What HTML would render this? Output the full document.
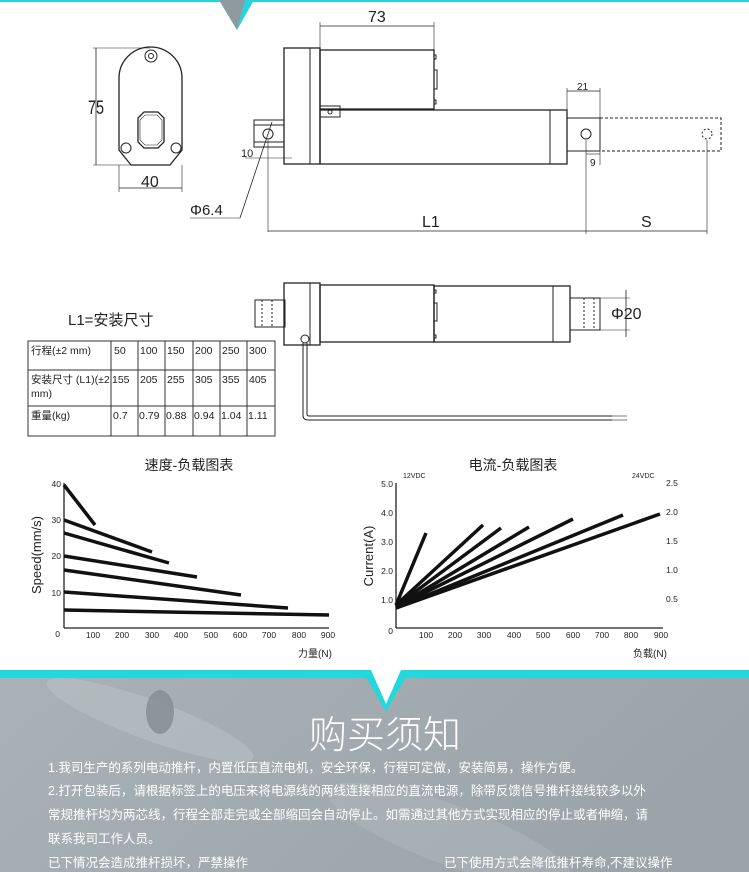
<!DOCTYPE html>
<html><head><meta charset="utf-8"><style>
html,body{margin:0;padding:0;background:#fff}
body{width:749px;height:872px;position:relative;overflow:hidden;font-family:"Liberation Sans","Noto Sans CJK SC",sans-serif}
svg{position:absolute;left:0;top:0}
</style></head><body>
<svg width="749" height="872" viewBox="0 0 749 872" font-family="Liberation Sans, Noto Sans CJK SC, sans-serif">
<defs>
<linearGradient id="bg" x1="0" y1="0" x2="1" y2="0.3">
<stop offset="0" stop-color="#a9b2b7"/><stop offset="0.5" stop-color="#a2abb0"/><stop offset="1" stop-color="#9aa4a9"/>
</linearGradient>
</defs>
<rect x="0" y="0" width="749" height="2" fill="#28d4da"/>
<polygon points="219,0 254,0 237,30" fill="#28d4da"/>
<polygon points="219,0 245,0 237,30" fill="#8f9aa0"/>

<g stroke="#222" fill="none" stroke-width="1">
<path d="M119,150 L119,78 A31.5,31 0 0 1 182,78 L182,150 L170,165 L131,165 Z" stroke-width="1.3"/>
<circle cx="151" cy="56" r="6"/><circle cx="151" cy="56" r="2.5"/>
<circle cx="126" cy="148" r="5"/><circle cx="176" cy="148" r="5"/>
<path d="M138,118 L144,112 L158,112 L164,118 L164,142 L158,148 L144,148 L138,142 Z" stroke-width="1.3"/>
<path d="M140,120 L145,115 L157,115 L162,120 L162,140 L157,145 L145,145 L140,140 Z" stroke-width="0.6"/>
<line x1="93" y1="48" x2="150" y2="48" stroke-width="0.6"/>
<line x1="93" y1="165" x2="150" y2="165" stroke-width="0.6"/>
<line x1="96" y1="48" x2="96" y2="165" stroke-width="0.8"/>
<line x1="119" y1="165" x2="119" y2="192" stroke-width="0.6"/>
<line x1="182" y1="165" x2="182" y2="192" stroke-width="0.6"/>
<line x1="119" y1="188" x2="182" y2="188" stroke-width="0.8"/>

<rect x="284" y="48" width="36" height="116" stroke-width="1.3"/>
<line x1="310" y1="48" x2="310" y2="164"/>
<rect x="320" y="50" width="114" height="59" stroke-width="1.3"/>
<rect x="434" y="55" width="2" height="4"/><rect x="434" y="70" width="3" height="19"/><rect x="434" y="100" width="2" height="4"/>
<rect x="320" y="110" width="247" height="54" stroke-width="1.3"/>
<line x1="550" y1="110" x2="550" y2="164"/>
<rect x="320" y="106" width="20" height="11"/><circle cx="330" cy="112" r="2"/>
<rect x="254" y="120" width="30" height="27"/>
<line x1="254" y1="125" x2="284" y2="125"/><line x1="254" y1="142" x2="284" y2="142"/>
<circle cx="268" cy="134" r="5"/>
<rect x="567" y="118" width="33" height="33"/>
<circle cx="586" cy="134" r="5"/>
<path d="M600,118 H721 V151 H600" stroke-dasharray="3,2"/>
<circle cx="707" cy="134" r="5" stroke-dasharray="2,2"/>
<line x1="320" y1="22" x2="320" y2="48" stroke-width="0.6"/>
<line x1="434" y1="22" x2="434" y2="50" stroke-width="0.6"/>
<line x1="320" y1="26" x2="434" y2="26" stroke-width="0.8"/>
<line x1="567" y1="88" x2="567" y2="110" stroke-width="0.6"/>
<line x1="600" y1="88" x2="600" y2="165" stroke-width="0.6"/>
<line x1="567" y1="91" x2="600" y2="91" stroke-width="0.8"/>
<line x1="586" y1="154" x2="600" y2="154" stroke-width="0.6"/>
<line x1="268" y1="140" x2="268" y2="232" stroke-width="0.6"/>
<line x1="586" y1="140" x2="586" y2="234" stroke-width="0.6"/>
<line x1="707" y1="140" x2="707" y2="234" stroke-width="0.6"/>
<line x1="268" y1="231" x2="707" y2="231" stroke-width="0.8"/>
<line x1="245" y1="158" x2="292" y2="158" stroke-width="0.6"/>
<line x1="190" y1="218" x2="240" y2="218" stroke-width="0.6"/>
<line x1="240" y1="218" x2="272" y2="122" stroke-width="0.8"/>

<rect x="284" y="283" width="36" height="62" stroke-width="1.3"/>
<line x1="310" y1="283" x2="310" y2="345"/>
<rect x="320" y="285" width="114" height="57" stroke-width="1.3"/>
<rect x="434" y="286" width="136" height="56" stroke-width="1.3"/>
<line x1="553" y1="286" x2="553" y2="342"/>
<rect x="434" y="290" width="2" height="3"/><rect x="434" y="303" width="3" height="18"/><rect x="434" y="335" width="2" height="3"/>
<rect x="570" y="298" width="30" height="32"/>
<line x1="584" y1="298" x2="584" y2="330" stroke-dasharray="2,2"/><line x1="594" y1="298" x2="594" y2="330" stroke-dasharray="2,2"/>
<rect x="255" y="300" width="30" height="27"/>
<line x1="262" y1="300" x2="262" y2="327" stroke-dasharray="2,2"/><line x1="272" y1="300" x2="272" y2="327" stroke-dasharray="2,2"/>
<line x1="600" y1="298" x2="630" y2="298" stroke-width="0.6"/><line x1="600" y1="330" x2="630" y2="330" stroke-width="0.6"/>
<line x1="626" y1="290" x2="626" y2="337" stroke-width="0.8"/>
<circle cx="305" cy="339" r="4"/>
<path d="M303,343 V415 Q303,420 308,420 H612" stroke-width="1"/>
<path d="M307,343 V414 Q307,416 309,416 H612" stroke-width="1"/>
<line x1="612" y1="416" x2="627" y2="416" stroke-width="0.6"/><line x1="612" y1="420" x2="627" y2="420" stroke-width="0.6"/>

<g stroke="#333" stroke-width="1">
<rect x="28" y="341" width="247" height="95"/>
<line x1="28" y1="370" x2="275" y2="370"/><line x1="28" y1="406" x2="275" y2="406"/>
<line x1="111" y1="341" x2="111" y2="436"/><line x1="138" y1="341" x2="138" y2="436"/>
<line x1="165" y1="341" x2="165" y2="436"/><line x1="193" y1="341" x2="193" y2="436"/>
<line x1="220" y1="341" x2="220" y2="436"/><line x1="247" y1="341" x2="247" y2="436"/>
</g>

<line x1="64" y1="483" x2="64" y2="628" stroke-width="1.3"/>
<line x1="64" y1="628" x2="329" y2="628" stroke-width="1.3"/>
<g stroke="#111" stroke-width="3.5">
<line x1="64" y1="485" x2="95" y2="525"/>
<line x1="64" y1="520" x2="152" y2="552"/>
<line x1="64" y1="533" x2="169" y2="563"/>
<line x1="64" y1="556" x2="197" y2="577"/>
<line x1="64" y1="570" x2="241" y2="595"/>
<line x1="64" y1="592" x2="288" y2="608"/>
<line x1="64" y1="610" x2="329" y2="615"/>
</g>
<line x1="396" y1="483" x2="396" y2="628" stroke-width="1.3"/>
<line x1="396" y1="628" x2="663" y2="628" stroke-width="1.3"/>
<g stroke="#111" stroke-width="3.5">
<line x1="396" y1="605" x2="426" y2="533"/>
<line x1="396" y1="605" x2="483" y2="525"/>
<line x1="396" y1="606" x2="501" y2="528"/>
<line x1="396" y1="607" x2="529" y2="527"/>
<line x1="396" y1="607" x2="573" y2="519"/>
<line x1="396" y1="608" x2="623" y2="515"/>
<line x1="396" y1="608" x2="660" y2="514"/>
</g>
</g>

<g fill="#222" font-size="16">
<text x="88" y="114" font-size="19" textLength="16" lengthAdjust="spacingAndGlyphs">75</text>
<text x="141" y="187">40</text>
<text x="368" y="22">73</text>
<text x="577" y="90" font-size="10">21</text>
<text x="590" y="166" font-size="10">9</text>
<text x="241" y="157" font-size="11">10</text>
<text x="190" y="215" font-size="15">Φ6.4</text>
<text x="422" y="227">L1</text>
<text x="641" y="227">S</text>
<text x="611" y="319" font-size="16">Φ20</text>
<text x="68" y="325" font-size="15">L1=安装尺寸</text>
</g>
<g fill="#222" font-size="10.5">
<text x="31" y="354">行程(±2 mm)</text>
<text x="114" y="354">50</text><text x="140" y="354">100</text><text x="167" y="354">150</text><text x="195" y="354">200</text><text x="222" y="354">250</text><text x="249" y="354">300</text>
<text x="31" y="383">安装尺寸 (L1)(±2</text><text x="31" y="397">mm)</text>
<text x="112" y="383">155</text><text x="140" y="383">205</text><text x="167" y="383">255</text><text x="195" y="383">305</text><text x="222" y="383">355</text><text x="249" y="383">405</text>
<text x="31" y="419">重量(kg)</text>
<text x="113" y="419">0.7</text><text x="139" y="419">0.79</text><text x="166" y="419">0.88</text><text x="194" y="419">0.94</text><text x="221" y="419">1.04</text><text x="248" y="419">1.11</text>
</g>
<g fill="#222">
<text x="189" y="470" font-size="14" text-anchor="middle">速度-负载图表</text>
<text x="513" y="470" font-size="14" text-anchor="middle">电流-负载图表</text>
<g font-size="8.5" text-anchor="end">
<text x="61" y="487">40</text><text x="61" y="523">30</text><text x="61" y="559">20</text><text x="61" y="596">10</text><text x="60" y="637">0</text>
<text x="393" y="487">5.0</text><text x="393" y="516">4.0</text><text x="393" y="545">3.0</text><text x="393" y="574">2.0</text><text x="393" y="603">1.0</text><text x="393" y="634">0</text>
</g>
<g font-size="8.5">
<text x="666" y="486">2.5</text><text x="666" y="515">2.0</text><text x="666" y="544">1.5</text><text x="666" y="573">1.0</text><text x="666" y="602">0.5</text>
<text x="403" y="478" font-size="7">12VDC</text><text x="632" y="478" font-size="7">24VDC</text>
</g>
<g font-size="8.5" text-anchor="middle">
<text x="93" y="638">100</text><text x="122" y="638">200</text><text x="152" y="638">300</text><text x="181" y="638">400</text><text x="211" y="638">500</text><text x="240" y="638">600</text><text x="269" y="638">700</text><text x="299" y="638">800</text><text x="328" y="638">900</text>
<text x="426" y="638">100</text><text x="455" y="638">200</text><text x="484" y="638">300</text><text x="514" y="638">400</text><text x="543" y="638">500</text><text x="573" y="638">600</text><text x="602" y="638">700</text><text x="631" y="638">800</text><text x="661" y="638">900</text>
</g>
<text x="315" y="657" font-size="10" text-anchor="middle">力量(N)</text>
<text x="650" y="657" font-size="10" text-anchor="middle">负载(N)</text>
<text x="41" y="555" font-size="13" text-anchor="middle" transform="rotate(-90 41 555)">Speed(mm/s)</text>
<text x="373" y="556" font-size="13" text-anchor="middle" transform="rotate(-90 373 556)">Current(A)</text>
</g>

<rect x="0" y="670" width="749" height="202" fill="url(#bg)"/>
<ellipse cx="150" cy="720" rx="110" ry="20" fill="#b7bfc3" opacity="0.6" transform="rotate(20 150 720)"/>
<ellipse cx="160" cy="712" rx="14" ry="22" fill="#7d878c" opacity="0.7"/>
<ellipse cx="450" cy="835" rx="130" ry="30" fill="#b0b8bc" opacity="0.5" transform="rotate(20 450 835)"/>
<rect x="0" y="670" width="749" height="8" fill="#22d8dc"/>
<polygon points="366,677 406,677 386,712" fill="#22d8dc"/>
<polygon points="371,670 401,670 386,704" fill="#ffffff"/>
<rect x="0" y="660" width="749" height="10" fill="#fff"/>
<polygon points="370,660 402,660 386,700" fill="#fff"/>
<g fill="#fff">
<text x="385" y="748" font-size="38" text-anchor="middle" font-weight="300">购买须知</text>
<g font-size="12.5">
<text x="48" y="772">1.我司生产的系列电动推杆，内置低压直流电机，安全环保，行程可定做，安装简易，操作方便。</text>
<text x="48" y="795">2.打开包装后，请根据标签上的电压来将电源线的两线连接相应的直流电源，除带反馈信号推杆接线较多以外</text>
<text x="48" y="819">常规推杆均为两芯线，行程全部走完或全部缩回会自动停止。如需通过其他方式实现相应的停止或者伸缩，请</text>
<text x="48" y="843">联系我司工作人员。</text>
<text x="48" y="867">已下情况会造成推杆损坏，严禁操作</text>
<text x="444" y="867">已下使用方式会降低推杆寿命,不建议操作</text>
</g>
</g>
</svg>
</body></html>
